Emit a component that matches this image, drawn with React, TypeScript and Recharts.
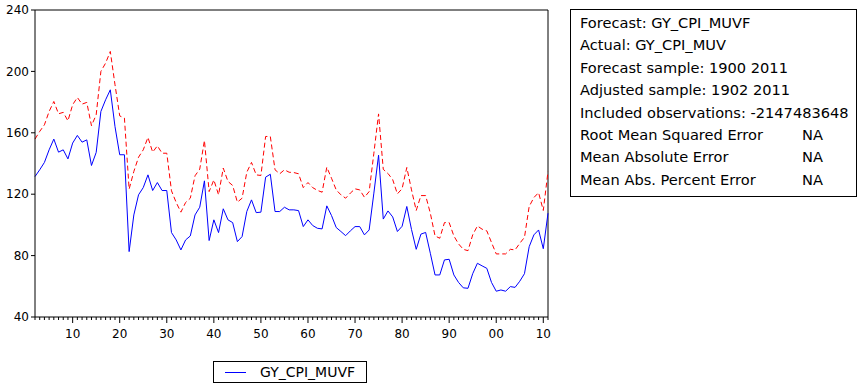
import { LineChart, Line, XAxis, YAxis, ReferenceLine } from "recharts";

// 1902..2011
const years: number[] = Array.from({ length: 110 }, (_, i) => 1902 + i);

const forecast: number[] = [
  131.5, 135.9, 140.7, 148.9, 155.9, 147.4, 148.9, 143.0, 153.3, 158.3,
  153.9, 155.4, 138.7, 147.2, 173.9, 181.5, 188.0, 164.0, 145.7, 145.7,
  82.6, 106.5, 119.6, 124.3, 132.6, 122.4, 127.6, 122.4, 122.4, 95.0,
  90.2, 83.7, 90.2, 92.8, 106.5, 111.5, 128.7, 89.8, 103.3, 95.0,
  110.5, 103.3, 101.5, 89.1, 92.4, 108.7, 116.3, 108.0, 108.3, 131.1,
  133.0, 108.7, 108.7, 111.5, 109.8, 109.8, 109.3, 98.9, 103.3, 99.6,
  97.8, 97.4, 112.4, 106.1, 98.3, 95.7, 93.0, 96.1, 98.9, 98.9,
  93.5, 96.7, 120.7, 145.4, 103.8, 109.1, 105.2, 95.7, 99.1, 112.0,
  97.0, 84.1, 94.0, 95.1, 81.5, 67.4, 67.4, 77.2, 77.6, 67.4,
  62.5, 59.0, 58.7, 68.2, 75.0, 73.3, 71.7, 62.5, 56.8, 57.6,
  56.8, 59.8, 59.3, 63.3, 68.2, 85.8, 93.5, 96.7, 84.5, 107.6,
];

const upper: number[] = [
  155.9, 160.9, 165.2, 173.9, 180.4, 172.4, 173.3, 167.8, 178.3, 183.0,
  178.7, 179.8, 164.6, 171.7, 200.0, 205.4, 213.0, 191.3, 171.0, 169.6,
  123.3, 134.8, 144.1, 148.9, 157.0, 147.4, 151.5, 146.7, 146.7, 122.2,
  114.6, 108.3, 114.6, 117.4, 132.0, 136.3, 155.0, 121.7, 129.3, 119.6,
  137.0, 128.3, 125.7, 114.8, 117.4, 134.3, 140.7, 132.6, 132.2, 157.6,
  157.6, 135.9, 133.3, 135.9, 134.3, 134.1, 133.3, 124.3, 127.6, 124.3,
  122.5, 121.3, 137.6, 130.4, 122.8, 119.6, 117.4, 120.7, 123.5, 122.8,
  118.0, 121.7, 146.7, 172.3, 136.2, 133.5, 129.5, 120.2, 123.6, 137.4,
  122.8, 109.4, 119.1, 119.1, 107.6, 92.8, 91.3, 101.5, 101.5, 92.8,
  87.6, 84.1, 83.2, 93.5, 99.3, 97.2, 96.1, 88.5, 81.1, 81.1,
  81.1, 84.1, 83.7, 88.0, 91.9, 112.0, 117.8, 121.0, 109.4, 134.8,
];

const yTicks = [40, 80, 120, 160, 200, 240];

const statLines: [string, string][] = [
  ["Forecast: GY_CPI_MUVF", ""],
  ["Actual: GY_CPI_MUV", ""],
  ["Forecast sample: 1900 2011", ""],
  ["Adjusted sample: 1902 2011", ""],
  ["Included observations: -2147483648", ""],
  ["Root Mean Squared Error", "NA"],
  ["Mean Absolute Error", "NA"],
  ["Mean Abs. Percent Error", "NA"],
];

const data = years.map((year, i) => ({
  year,
  forecast: forecast[i],
  upper: upper[i],
}));

const FONT = "'DejaVu Sans', sans-serif";

const YearTick = (props: any) => {
  const { x, y, payload } = props;
  const yr: number = payload.value;
  const major = yr % 10 === 0;
  return (
    <g>
      <line x1={x} x2={x} y1={y} y2={y + (major ? 6 : 3)} stroke="#000" />
      {major && (
        <text
          x={x}
          y={y + 21}
          textAnchor="middle"
          fontSize={12}
          fontFamily={FONT}
          fill="#000"
        >
          {String(yr % 100).padStart(2, "0")}
        </text>
      )}
    </g>
  );
};

export default function App() {
  return (
    <div
      style={{
        position: "absolute",
        left: 0,
        top: 0,
        width: 863,
        height: 385,
        background: "#fff",
        fontFamily: FONT,
      }}
    >
      <LineChart
        width={863}
        height={385}
        data={data}
        margin={{ top: 10, right: 315, bottom: 38, left: 0 }}
      >
        <XAxis
          dataKey="year"
          type="number"
          domain={[1902, 2011]}
          ticks={years}
          interval={0}
          tick={<YearTick />}
          tickLine={false}
          tickSize={0}
          tickMargin={0}
          height={30}
          axisLine={{ stroke: "#000" }}
        />
        <YAxis
          domain={[40, 240]}
          ticks={yTicks}
          width={35}
          tickSize={4}
          tickMargin={2}
          tick={{ fill: "#000", fontSize: 12, fontFamily: FONT }}
          tickLine={{ stroke: "#000" }}
          axisLine={{ stroke: "#000" }}
        />
        <ReferenceLine y={240} stroke="#000" />
        <ReferenceLine x={2011} stroke="#000" />
        <Line
          dataKey="upper"
          stroke="#ff0000"
          strokeWidth={1}
          strokeDasharray="5 3"
          dot={false}
          isAnimationActive={false}
        />
        <Line
          dataKey="forecast"
          name="GY_CPI_MUVF"
          stroke="#0000ff"
          strokeWidth={1}
          dot={false}
          isAnimationActive={false}
        />
      </LineChart>

      {/* legend */}
      <div
        style={{
          position: "absolute",
          left: 213,
          top: 361,
          width: 154,
          height: 22,
          border: "1px solid #000",
          boxSizing: "border-box",
        }}
      >
        <div
          style={{
            position: "absolute",
            left: 11,
            top: 10,
            width: 21,
            borderTop: "1px solid #0000ff",
          }}
        />
        <div
          style={{
            position: "absolute",
            left: 46,
            top: 1,
            fontSize: 14,
            lineHeight: "18px",
            whiteSpace: "nowrap",
          }}
        >
          GY_CPI_MUVF
        </div>
      </div>

      {/* stats box */}
      <div
        style={{
          position: "absolute",
          left: 570,
          top: 9,
          width: 287,
          height: 188,
          border: "1px solid #000",
          boxSizing: "border-box",
          paddingTop: 2,
        }}
      >
        {statLines.map(([label, val]) => (
          <div
            key={label}
            style={{
              position: "relative",
              height: 22.4,
              lineHeight: "22.4px",
              fontSize: 14.6,
              paddingLeft: 9,
              whiteSpace: "nowrap",
            }}
          >
            {label}
            {val && (
              <span style={{ position: "absolute", left: 231 }}>{val}</span>
            )}
          </div>
        ))}
      </div>
    </div>
  );
}
